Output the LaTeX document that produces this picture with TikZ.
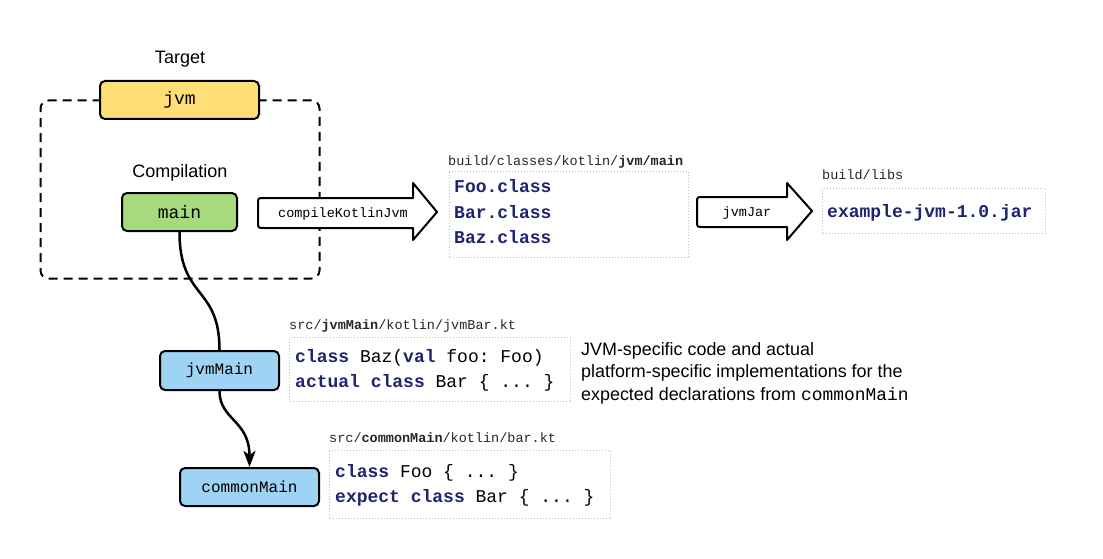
\documentclass[tikz,border=0pt]{standalone}
\usepackage{fontspec}
\setmainfont{Liberation Sans}
\setmonofont{Liberation Mono}
\usetikzlibrary{arrows.meta}
\definecolor{tgtyellow}{HTML}{FFDE75}
\definecolor{cmpgreen}{HTML}{A6DA7C}
\definecolor{srcblue}{HTML}{9ED3F4}
\definecolor{kwnavy}{HTML}{1F2470}
\definecolor{dotgray}{HTML}{BDBDBD}
\newcommand{\kw}[1]{\textbf{\color{kwnavy}#1}}
\begin{document}
\begin{tikzpicture}[x=1pt,y=-1pt,
  box/.style={draw=black, line width=2pt, rounded corners=5pt, inner sep=0pt, font=\ttfamily\fontsize{18}{20}\selectfont},
  srcbox/.style={box, fill=srcblue, font=\ttfamily\fontsize{16}{18}\selectfont},
  tgtframe/.style={draw=black, line width=2pt, rounded corners=8pt, dash pattern=on 9pt off 6pt, inner sep=0pt},
  dotbox/.style={draw=dotgray, line width=1pt, dash pattern=on 1pt off 2pt, inner sep=0pt},
  pathlabel/.style={anchor=base west, inner sep=0pt, font=\ttfamily\fontsize{13.5}{15}\selectfont, text=black!85},
  codeline/.style={anchor=base west, inner sep=0pt, font=\ttfamily\fontsize{18}{20}\selectfont},
  heading/.style={anchor=base, inner sep=0pt, font=\fontsize{18}{20}\selectfont},
  descline/.style={anchor=base west, inner sep=0pt, font=\fontsize{17.9}{22}\selectfont},
  blockarrow/.style={draw=black, fill=white, line width=2pt, line join=round},
  arrowtext/.style={inner sep=0pt, font=\ttfamily\fontsize{13.5}{15}\selectfont},
  conn/.style={draw=black, line width=2.5pt},
]
\useasboundingbox (0,0) rectangle (1103,559);

% target / compilation
\node[heading] (target) at (180,64) {Target};
\node[tgtframe, minimum width=279, minimum height=178] (frame) at (180,189.5) {};
\node[box, fill=tgtyellow, minimum width=159, minimum height=38] (jvm) at (179.5,100) {jvm};
\node[heading] (compilation) at (180,177) {Compilation};
\node[box, fill=cmpgreen, minimum width=115, minimum height=38] (main) at (179.5,212) {main};

% source sets
\node[srcbox, minimum width=119, minimum height=39] (jvmMain) at (219.5,370.5) {jvmMain};
\node[srcbox, minimum width=139, minimum height=38] (commonMain) at (249.5,487) {commonMain};

% block arrows
\draw[blockarrow] (413,198) -- (264,198) .. controls (258,198) .. (258,204) -- (258,222)
  .. controls (258,228) .. (264,228) -- (413,228) -- (413,240) -- (437,212) -- (413,183) -- cycle;
\node[arrowtext] (compileText) at (343,214) {compileKotlinJvm};
\draw[blockarrow] (787,197) -- (703,197) .. controls (697,197) .. (697,203) -- (697,221)
  .. controls (697,227) .. (703,227) -- (787,227) -- (787,240) -- (812,211) -- (787,183) -- cycle;
\node[arrowtext] (jarText) at (747,213) {jvmJar};

% classes output
\node[dotbox, minimum width=239, minimum height=86, anchor=north west] (classesBox) at (449,171) {};
\node[pathlabel] (classesLabel) at (448,165) {build/classes/kotlin/\textbf{jvm/main}};
\node[codeline] (fooClass) at (454,193) {\kw{Foo.class}};
\node[codeline] (barClass) at (454,218) {\kw{Bar.class}};
\node[codeline] (bazClass) at (454,243) {\kw{Baz.class}};

% libs output
\node[dotbox, minimum width=223, minimum height=45, anchor=north west] (libsBox) at (822,188) {};
\node[pathlabel] (libsLabel) at (822,179) {build/libs};
\node[codeline] (jarFile) at (827,217) {\kw{example-jvm-1.0.jar}};

% jvmMain source
\node[dotbox, minimum width=281, minimum height=64, anchor=north west] (jvmBox) at (289,337) {};
\node[pathlabel] (jvmLabel) at (289,329) {src/\textbf{jvmMain}/kotlin/jvmBar.kt};
\node[codeline] (jvmCodeA) at (295,362) {\kw{class} Baz(\kw{val} foo: Foo)};
\node[codeline] (jvmCodeB) at (295,387) {\kw{actual} \kw{class} Bar \{ ... \}};

% commonMain source
\node[dotbox, minimum width=281, minimum height=68, anchor=north west] (commonBox) at (329,450) {};
\node[pathlabel] (commonLabel) at (329,442) {src/\textbf{commonMain}/kotlin/bar.kt};
\node[codeline] (commonCodeA) at (335,477) {\kw{class} Foo \{ ... \}};
\node[codeline] (commonCodeB) at (335,502) {\kw{expect} \kw{class} Bar \{ ... \}};

% description
\node[descline] (descA) at (581,355) {JVM-specific code and actual};
\node[descline] (descB) at (581,377) {platform-specific implementations for the};
\node[descline] (descC) at (581,400) {expected declarations from \texttt{commonMain}};

% connectors
\draw[conn] (main.south) .. controls (179.5,300) and (219.5,285) .. (jvmMain.north);
\draw[conn, -{Stealth[length=16pt,width=12pt,inset=4pt]}] (jvmMain.south) .. controls (219.5,420) and (249.5,420) .. (commonMain.north);
\end{tikzpicture}
\end{document}
